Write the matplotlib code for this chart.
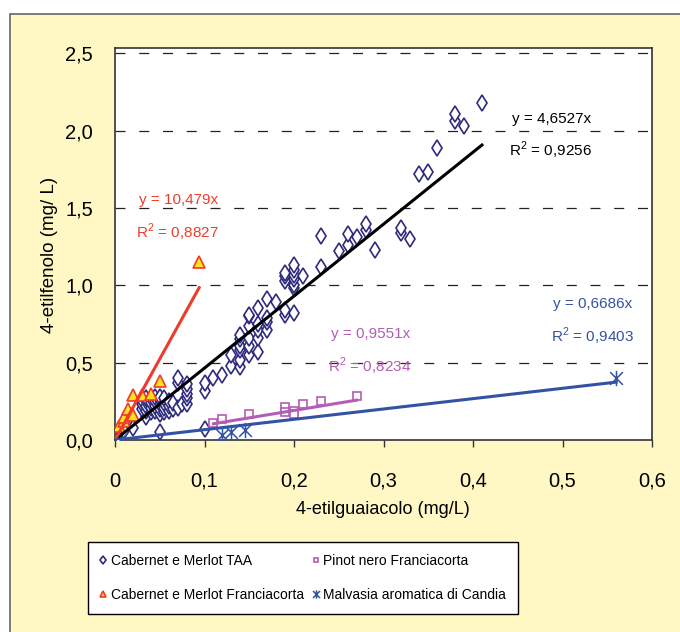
import matplotlib
matplotlib.use("Agg")
import matplotlib.pyplot as plt
from matplotlib.patches import Rectangle
from matplotlib.path import Path
from matplotlib.ticker import FuncFormatter

FONT = ["Liberation Sans Narrow", "Liberation Sans", "DejaVu Sans"]
plt.rcParams["font.family"] = FONT
plt.rcParams["mathtext.fontset"] = "custom"
plt.rcParams["mathtext.rm"] = "Liberation Sans"

# Cabernet e Merlot TAA (4-etilguaiacolo, 4-etilfenolo)
taa_x = [0.0, 0.005, 0.01, 0.02, 0.035, 0.05, 0.10,
         0.03, 0.03, 0.03, 0.035, 0.035, 0.035, 0.035,
         0.04, 0.04, 0.04, 0.04, 0.045, 0.045, 0.045, 0.045,
         0.05, 0.05, 0.05, 0.05, 0.05, 0.055, 0.055, 0.055, 0.055,
         0.06, 0.06, 0.06, 0.065, 0.065, 0.07, 0.07, 0.07, 0.075,
         0.08, 0.08, 0.08, 0.08, 0.08,
         0.10, 0.10, 0.11, 0.12,
         0.13, 0.13, 0.14, 0.14, 0.14, 0.14, 0.14, 0.14,
         0.15, 0.15, 0.15, 0.15, 0.15, 0.15,
         0.16, 0.16, 0.16, 0.16, 0.16, 0.17, 0.17, 0.17, 0.17,
         0.18, 0.19, 0.19, 0.20,
         0.19, 0.19, 0.19, 0.20, 0.20, 0.20, 0.20, 0.20, 0.20, 0.21,
         0.23, 0.23, 0.25, 0.26, 0.26, 0.27, 0.28, 0.28, 0.29,
         0.32, 0.32, 0.33, 0.34, 0.35, 0.36, 0.38, 0.38, 0.39, 0.41]
taa_y = [0.0, 0.02, 0.06, 0.075, 0.15, 0.05, 0.07,
         0.20, 0.23, 0.26, 0.19, 0.22, 0.25, 0.27,
         0.18, 0.21, 0.24, 0.27, 0.19, 0.22, 0.25, 0.28,
         0.17, 0.20, 0.23, 0.26, 0.28, 0.18, 0.21, 0.24, 0.27,
         0.19, 0.22, 0.25, 0.20, 0.24, 0.21, 0.37, 0.40, 0.23,
         0.23, 0.27, 0.30, 0.33, 0.36,
         0.32, 0.37, 0.40, 0.42,
         0.48, 0.55, 0.47, 0.52, 0.58, 0.61, 0.65, 0.68,
         0.55, 0.61, 0.66, 0.74, 0.80, 0.81,
         0.57, 0.66, 0.71, 0.75, 0.855, 0.71, 0.76, 0.79, 0.91,
         0.89, 0.81, 0.84, 0.82,
         1.03, 1.06, 1.08, 0.98, 1.00, 1.04, 1.07, 1.10, 1.13, 1.06,
         1.12, 1.32, 1.22, 1.26, 1.33, 1.31, 1.36, 1.40, 1.23,
         1.34, 1.37, 1.30, 1.72, 1.73, 1.89, 2.06, 2.11, 2.03, 2.18]

# Cabernet e Merlot Franciacorta
fc_x = [0.005, 0.01, 0.01, 0.015, 0.02, 0.02, 0.03, 0.04, 0.05, 0.094]
fc_y = [0.09, 0.12, 0.15, 0.20, 0.16, 0.29, 0.29, 0.30, 0.38, 1.15]

# Pinot nero Franciacorta
pn_x = [0.11, 0.12, 0.15, 0.19, 0.19, 0.20, 0.20, 0.21, 0.23, 0.27]
pn_y = [0.11, 0.135, 0.165, 0.215, 0.18, 0.19, 0.17, 0.235, 0.25, 0.285]

# Malvasia aromatica di Candia
mv_x = [0.0, 0.007, 0.12, 0.13, 0.145, 0.56]
mv_y = [0.0, 0.005, 0.035, 0.05, 0.065, 0.40]

# trendlines y = a*x (slope, x range)
slopes = [4.6527, 10.479, 0.9551, 0.6686]
r2 = ["0,9256", "0,8827", "0,8234", "0,9403"]
x_ranges = [(0.0, 0.41), (0.0, 0.094), (0.11, 0.27), (0.0, 0.56)]

navy = "#2E2A7E"
red = "#EE3B2B"
pink = "#B35DB3"
blue = "#3352A3"
yellow_bg = "#FFF8C5"

star = Path([(-1, -1), (1, 1), (-1, 1), (1, -1), (0, -1.2), (0, 1.2)],
            [Path.MOVETO, Path.LINETO, Path.MOVETO, Path.LINETO, Path.MOVETO, Path.LINETO])

fig = plt.figure(figsize=(6.8, 6.32), dpi=100, facecolor="white")
fig.patches.append(Rectangle((10 / 680, -0.1), 1.2, 1.1 - 14 / 632, transform=fig.transFigure,
                             facecolor=yellow_bg, edgecolor="#666666", linewidth=1.2, zorder=-1))

ax = fig.add_axes([115 / 680, 1 - 440 / 632, 537 / 680, 392 / 632])
ax.set_xlim(0, 0.6)
ax.set_ylim(0, 2.535)

for yv in [0.5, 1.0, 1.5, 2.0, 2.5]:
    ax.axhline(yv, color="#222222", lw=0.9, dashes=(8, 11), zorder=1)

ax.plot(taa_x, taa_y, linestyle="none", marker="d", markersize=8, markerfacecolor="white",
        markeredgecolor=navy, markeredgewidth=1.2, label="Cabernet e Merlot TAA", zorder=3)
ax.plot(fc_x, fc_y, linestyle="none", marker="^", markersize=8, markerfacecolor="#FFE21A",
        markeredgecolor=red, markeredgewidth=1.2, label="Cabernet e Merlot Franciacorta", zorder=4)
ax.plot(pn_x, pn_y, linestyle="none", marker="s", markersize=6, markerfacecolor="white",
        markeredgecolor=pink, markeredgewidth=1.2, label="Pinot nero Franciacorta", zorder=3)
ax.plot(mv_x, mv_y, linestyle="none", marker=star, markersize=11, markerfacecolor="none",
        markeredgecolor=blue, markeredgewidth=1.1, label="Malvasia aromatica di Candia", zorder=3)

line_colors = ["black", red, pink, blue]
for a, (x0, x1), c in zip(slopes, x_ranges, line_colors):
    ax.plot([x0, x1], [a * x0, a * x1], color=c, lw=2.2, zorder=5)

# equation labels (figure pixel positions)
label_pos = [(512, 119, 509, 150), (139, 200, 136, 232), (331, 334, 328, 366), (553, 304, 551, 336)]
for a, r, (ex, ey, rx, ry), c in zip(slopes, r2, label_pos, line_colors):
    eq = "y = " + f"{a:.4f}".replace(".", ",") + "x"
    if a > 10:
        eq = "y = " + f"{a:.3f}".replace(".", ",") + "x"
    fig.text(ex / 680, 1 - ey / 632, eq, color=c, fontsize=11, va="center", ha="left")
    fig.text(rx / 680, 1 - ry / 632, r"R$^{2}$ = " + r, color=c, fontsize=11, va="center", ha="left")

ax.set_xticks([0, 0.1, 0.2, 0.3, 0.4, 0.5, 0.6])
ax.set_yticks([0, 0.5, 1.0, 1.5, 2.0, 2.5])
ax.xaxis.set_major_formatter(FuncFormatter(lambda v, p: "0" if v == 0 else f"{v:.1f}".replace(".", ",")))
ax.yaxis.set_major_formatter(FuncFormatter(lambda v, p: f"{v:.1f}".replace(".", ",")))
ax.tick_params(axis="x", direction="out", length=5, width=1, pad=18, labelsize=14.5, color="#333333")
ax.tick_params(axis="y", length=0, pad=16, labelsize=14.5)
for s in ax.spines.values():
    s.set_color("#333333")
    s.set_linewidth(1.2)

fig.text(383 / 680, 1 - 510 / 632, "4-etilguaiacolo (mg/L)", fontsize=13, ha="center", va="center")
fig.text(50 / 680, 1 - 255 / 632, "4-etilfenolo (mg/ L)", fontsize=13.5, ha="center", va="center", rotation=90)

leg = fig.legend(loc="upper left", bbox_to_anchor=(88 / 680, 1 - 542 / 632), ncol=2,
                 fontsize=10, markerscale=0.55, handlelength=0.5, handletextpad=0.3,
                 columnspacing=0.6, labelspacing=1.45, borderpad=0.85, borderaxespad=0,
                 fancybox=False, edgecolor="black", framealpha=1)
leg.get_frame().set_linewidth(1.0)

fig.savefig("out.png", dpi=100, facecolor=fig.get_facecolor())
